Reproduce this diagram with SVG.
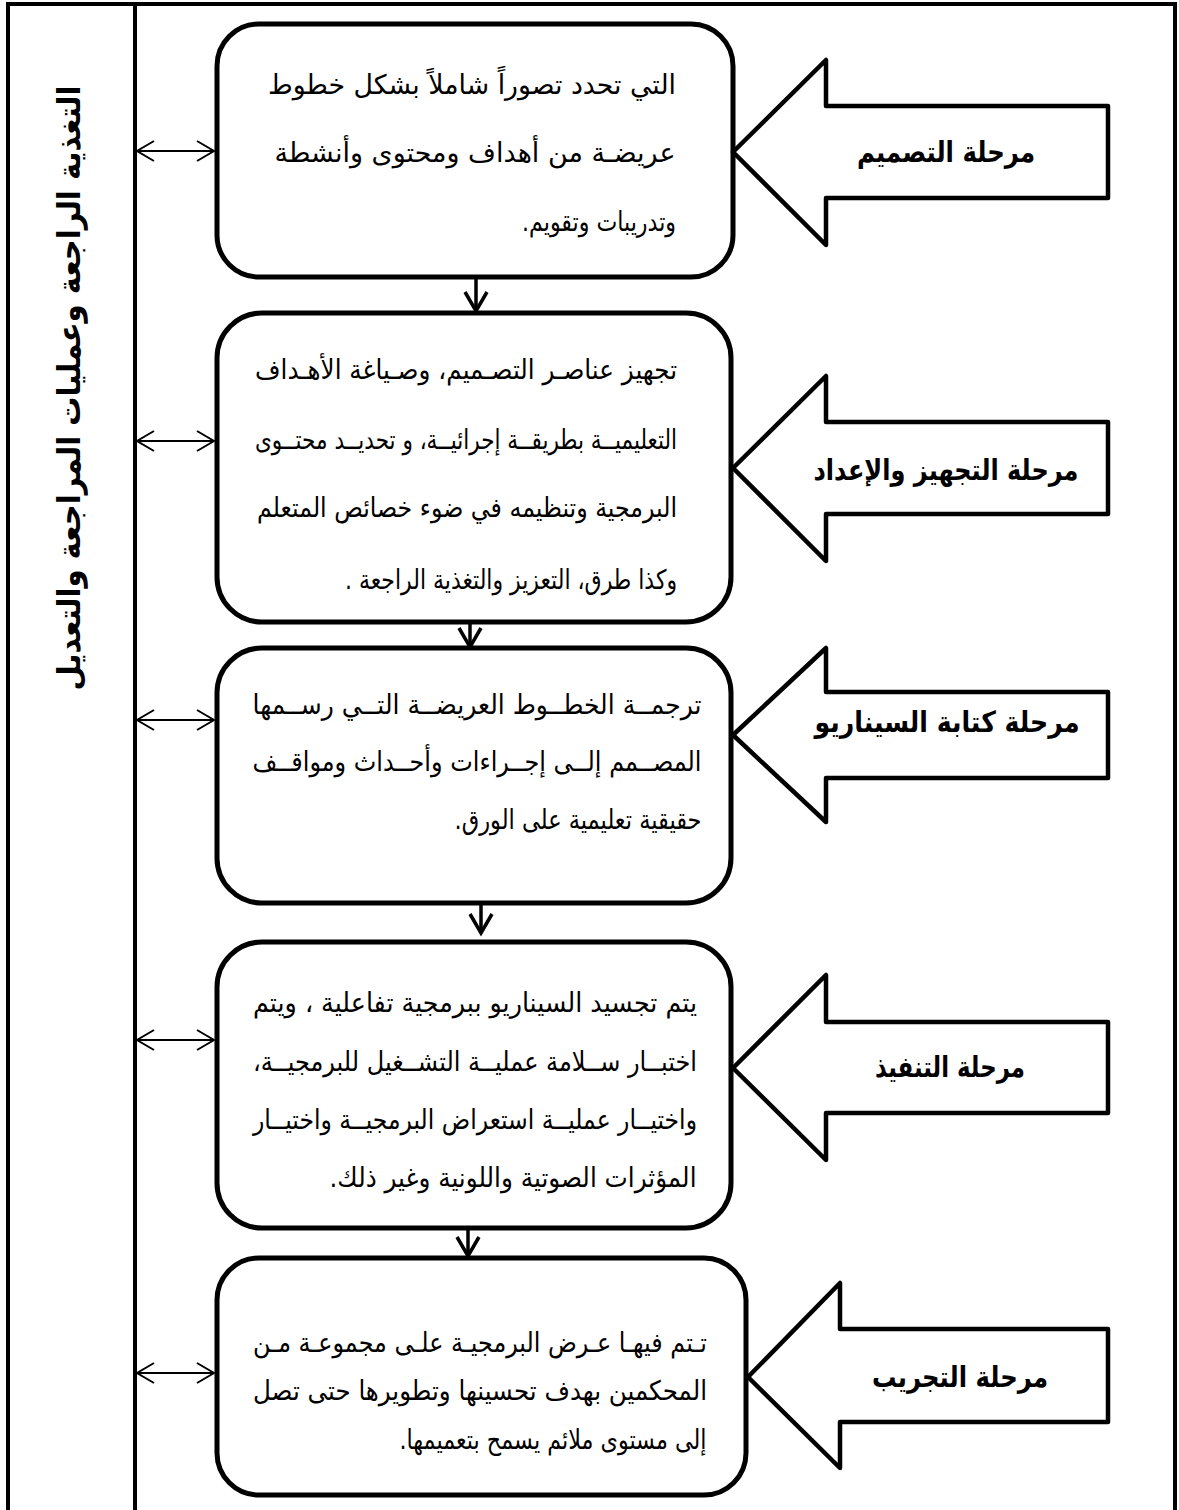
<svg xmlns="http://www.w3.org/2000/svg" width="1179" height="1510" viewBox="0 0 1179 1510">
<defs>
<style>
.frame{fill:none;stroke:#000;stroke-width:4}
.box{fill:#fff;stroke:#000;stroke-width:5}
.big{fill:#fff;stroke:#000;stroke-width:4.5;stroke-linejoin:round}
.t{font-family:"DejaVu Sans",sans-serif;font-size:27px;fill:#000;text-anchor:middle;direction:rtl}
.b{font-family:"DejaVu Sans",sans-serif;font-size:29px;font-weight:bold;fill:#000;text-anchor:middle;direction:rtl}
.v{font-family:"DejaVu Sans",sans-serif;font-size:31px;font-weight:bold;fill:#000;text-anchor:middle;direction:rtl}
.dbl{stroke:#000;stroke-width:2;fill:none}
.dn{stroke:#000;stroke-width:3.5;fill:none}
</style>
<marker id="h2" markerUnits="userSpaceOnUse" markerWidth="22" markerHeight="26" refX="19" refY="13" orient="auto-start-reverse"><path d="M2,3 L19,13 L2,23" fill="none" stroke="#000" stroke-width="2"/></marker>
<marker id="h3" markerUnits="userSpaceOnUse" markerWidth="26" markerHeight="28" refX="21" refY="14" orient="auto"><path d="M2,3 L21,14 L2,25" fill="none" stroke="#000" stroke-width="3.5"/></marker>
</defs>
<rect width="1179" height="1510" fill="#fff"/>

<g id="frame">
<path class="frame" d="M8,1512 L8,4 L1175,4 L1175,1512"/>
<line x1="135" y1="4" x2="135" y2="1512" stroke="#000" stroke-width="4"/>
</g>

<g id="feedback">
<text class="v" transform="translate(80,388) rotate(-90)" textLength="605" lengthAdjust="spacingAndGlyphs">التغذية الراجعة وعمليات المراجعة والتعديل</text>
</g>

<g id="connectors">
<line class="dbl" x1="137" y1="151" x2="214" y2="151" marker-start="url(#h2)" marker-end="url(#h2)"/>
<line class="dbl" x1="137" y1="441" x2="214" y2="441" marker-start="url(#h2)" marker-end="url(#h2)"/>
<line class="dbl" x1="137" y1="720" x2="214" y2="720" marker-start="url(#h2)" marker-end="url(#h2)"/>
<line class="dbl" x1="137" y1="1040" x2="214" y2="1040" marker-start="url(#h2)" marker-end="url(#h2)"/>
<line class="dbl" x1="137" y1="1373" x2="214" y2="1373" marker-start="url(#h2)" marker-end="url(#h2)"/>
<line class="dn" x1="476" y1="279" x2="476" y2="311" marker-end="url(#h3)"/>
<line class="dn" x1="470" y1="624" x2="470" y2="647" marker-end="url(#h3)"/>
<line class="dn" x1="481" y1="905" x2="481" y2="933" marker-end="url(#h3)"/>
<line class="dn" x1="468" y1="1230" x2="468" y2="1256" marker-end="url(#h3)"/>
</g>

<g id="box1">
<rect class="box" x="217" y="24" width="516" height="253" rx="42"/>
<text class="t" x="472" y="94" textLength="408" lengthAdjust="spacingAndGlyphs">التي تحدد تصوراً شاملاً بشكل خطوط</text>
<text class="t" x="475" y="162" textLength="401" lengthAdjust="spacingAndGlyphs">عريضـة  من أهداف  ومحتوى  وأنشطة</text>
<text class="t" x="599" y="231" textLength="154" lengthAdjust="spacingAndGlyphs">وتدريبات وتقويم.</text>
</g>
<g id="stage1">
<path class="big" d="M733,152 L826,60 L826,106 L1108,106 L1108,198 L826,198 L826,245 Z"/>
<text class="b" x="946" y="162" textLength="178" lengthAdjust="spacingAndGlyphs">مرحلة التصميم</text>
</g>

<g id="box2">
<rect class="box" x="217" y="313" width="514" height="309" rx="45"/>
<text class="t" x="466" y="379" textLength="422" lengthAdjust="spacingAndGlyphs">تجهيز عناصـر التصـميم، وصـياغة الأهـداف</text>
<text class="t" x="466" y="449" textLength="422" lengthAdjust="spacingAndGlyphs">التعليميــة بطريقــة إجرائيــة، و تحديــد محتــوى</text>
<text class="t" x="467" y="517" textLength="420" lengthAdjust="spacingAndGlyphs">البرمجية وتنظيمه في ضوء خصائص المتعلم</text>
<text class="t" x="511" y="589" textLength="332" lengthAdjust="spacingAndGlyphs">وكذا طرق، التعزيز  والتغذية الراجعة .</text>
</g>
<g id="stage2">
<path class="big" d="M733,468 L826,376 L826,422 L1108,422 L1108,514 L826,514 L826,561 Z"/>
<text class="b" x="946" y="480" textLength="265" lengthAdjust="spacingAndGlyphs">مرحلة التجهيز والإعداد</text>
</g>

<g id="box3">
<rect class="box" x="217" y="648" width="514" height="255" rx="45"/>
<text class="t" x="477" y="714" textLength="449" lengthAdjust="spacingAndGlyphs">ترجمــة الخطــوط العريضــة التــي رســمها</text>
<text class="t" x="477" y="771" textLength="449" lengthAdjust="spacingAndGlyphs">المصــمم إلــى إجــراءات وأحــداث ومواقــف</text>
<text class="t" x="578" y="829" textLength="247" lengthAdjust="spacingAndGlyphs">حقيقية تعليمية على الورق.</text>
</g>
<g id="stage3">
<path class="big" d="M733,735 L826,648 L826,692 L1108,692 L1108,778 L826,778 L826,822 Z"/>
<text class="b" x="947" y="732" textLength="265" lengthAdjust="spacingAndGlyphs">مرحلة كتابة السيناريو</text>
</g>

<g id="box4">
<rect class="box" x="217" y="942" width="514" height="286" rx="45"/>
<text class="t" x="475" y="1012" textLength="444" lengthAdjust="spacingAndGlyphs">يتم تجسيد السيناريو ببرمجية تفاعلية ، ويتم</text>
<text class="t" x="475" y="1071" textLength="444" lengthAdjust="spacingAndGlyphs">اختبــار ســلامة عمليــة التشــغيل للبرمجيــة،</text>
<text class="t" x="475" y="1129" textLength="444" lengthAdjust="spacingAndGlyphs">واختيــار عمليــة استعراض البرمجيــة واختيــار</text>
<text class="t" x="513" y="1187" textLength="367" lengthAdjust="spacingAndGlyphs">المؤثرات الصوتية واللونية وغير ذلك.</text>
</g>
<g id="stage4">
<path class="big" d="M733,1068 L826,975 L826,1022 L1108,1022 L1108,1113 L826,1113 L826,1160 Z"/>
<text class="b" x="950" y="1077" textLength="150" lengthAdjust="spacingAndGlyphs">مرحلة التنفيذ</text>
</g>

<g id="box5">
<rect class="box" x="217" y="1258" width="529" height="237" rx="42"/>
<text class="t" x="480" y="1352" textLength="454" lengthAdjust="spacingAndGlyphs">تـتم فيهـا عـرض البرمجيـة علـى مجموعـة مـن</text>
<text class="t" x="480" y="1400" textLength="454" lengthAdjust="spacingAndGlyphs">المحكمين بهدف تحسينها وتطويرها حتى تصل</text>
<text class="t" x="553" y="1449" textLength="307" lengthAdjust="spacingAndGlyphs">إلى مستوى ملائم يسمح بتعميمها.</text>
</g>
<g id="stage5">
<path class="big" d="M748,1377 L840,1283 L840,1329 L1108,1329 L1108,1422 L840,1422 L840,1468 Z"/>
<text class="b" x="960" y="1387" textLength="176" lengthAdjust="spacingAndGlyphs">مرحلة التجريب</text>
</g>
</svg>
